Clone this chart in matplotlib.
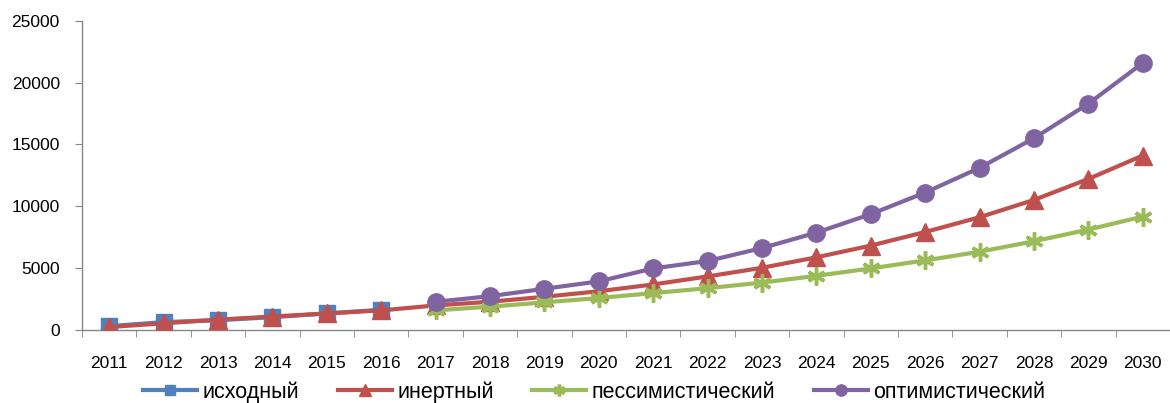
import matplotlib
matplotlib.use("Agg")
import matplotlib.pyplot as plt
from matplotlib.ticker import FixedLocator

plt.rcParams['font.family'] = ['Liberation Sans', 'DejaVu Sans']

years = list(range(2011, 2031))
base_years = list(range(2011, 2017))
scen_years = list(range(2017, 2031))

base = [270, 600, 750, 1000, 1300, 1600]
inert = [200, 500, 800, 1050, 1300, 1550, 1950, 2250, 2650, 3100, 3650, 4300,
         5000, 5850, 6800, 7900, 9100, 10500, 12200, 14100]
pess = [1550, 1850, 2200, 2550, 2950, 3350, 3800, 4350, 4950, 5600, 6300,
        7150, 8100, 9150]
opt = [2250, 2700, 3300, 3900, 4950, 5550, 6600, 7850, 9350, 11100, 13100,
       15500, 18300, 21600]
labels = ['исходный', 'инертный', 'пессимистический', 'оптимистический']
yticks = [0, 5000, 10000, 15000, 20000, 25000]

c_blue = '#4F81BD'
c_red = '#C0504D'
c_green = '#9BBB59'
c_purple = '#8064A2'

W, H = 1170, 403
fig = plt.figure(figsize=(W / 100, H / 100), dpi=100)
ax_left, ax_bottom_px, ax_top_px = 82, 329.5, 21
ax = fig.add_axes([ax_left / W, 1 - ax_bottom_px / H, 1 - ax_left / W,
                   (ax_bottom_px - ax_top_px) / H])

lw = 3.0
ax.plot(base_years, base, color=c_blue, lw=lw, marker='s', ms=11.5,
        label=labels[0], zorder=3)
ax.plot(years, inert, color=c_red, lw=lw, marker='^', ms=12.5,
        label=labels[1], zorder=4)
ax.plot(scen_years, pess, color=c_green, lw=lw, marker=(6, 2, 0), ms=13,
        mew=2.5, label=labels[2], zorder=5)
ax.plot(scen_years, opt, color=c_purple, lw=lw, marker='o', ms=12.5,
        label=labels[3], zorder=6)

ax.set_xlim(2010.5, 2030.5)
ax.set_ylim(0, 25000)
ax.set_yticks(yticks)
ax.set_yticklabels([str(v) for v in yticks])
ax.set_xticks(years)
ax.set_xticklabels([str(y) for y in years])
ax.xaxis.set_minor_locator(FixedLocator([y + 0.5 for y in range(2010, 2031)]))
ax.tick_params(axis='x', which='major', length=0, pad=19, labelsize=12.5)
ax.tick_params(axis='x', which='minor', length=5, color='#868686', direction='out')
ax.tick_params(axis='y', length=5, color='#868686', labelsize=12.5, pad=11)

for s in ['top', 'right']:
    ax.spines[s].set_visible(False)
for s in ['left', 'bottom']:
    ax.spines[s].set_color('#868686')
    ax.spines[s].set_linewidth(1.0)

leg = fig.legend(loc='center', bbox_to_anchor=(0.508, 1 - 392 / H), ncol=4,
                 frameon=False, fontsize=15.5, handlelength=2.5,
                 columnspacing=1.8, handletextpad=0.25, markerscale=0.65)

fig.savefig('out.png', dpi=100)
